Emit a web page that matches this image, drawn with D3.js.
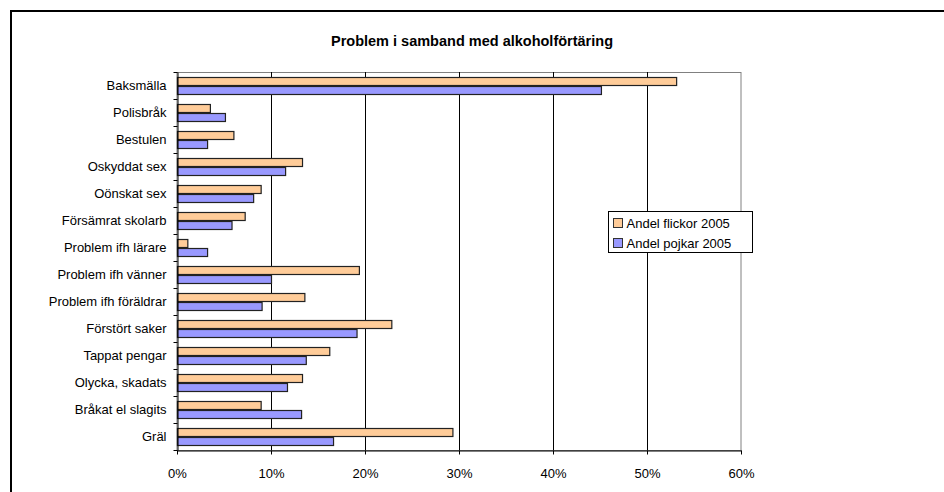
<!DOCTYPE html>
<html>
<head>
<meta charset="utf-8">
<script src="https://cdn.jsdelivr.net/npm/d3@7"></script>
<style>
  html, body { margin: 0; padding: 0; background: #fff; }
  svg { display: block; }
  text { font-family: "Liberation Sans", Arial, sans-serif; fill: #000; }
</style>
</head>
<body>
<svg id="chart" width="944" height="492"></svg>
<script>
const title = "Problem i samband med alkoholförtäring";
const categories = ["Baksmälla", "Polisbråk", "Bestulen", "Oskyddat sex", "Oönskat sex",
  "Försämrat skolarb", "Problem ifh lärare", "Problem ifh vänner", "Problem ifh föräldrar",
  "Förstört saker", "Tappat pengar", "Olycka, skadats", "Bråkat el slagits", "Gräl"];
const seriesNames = ["Andel flickor 2005", "Andel pojkar 2005"];
const flickor = [53.1, 3.5, 6.0, 13.3, 8.9, 7.2, 1.1, 19.35, 13.55, 22.8, 16.2, 13.3, 8.9, 29.3];
const pojkar  = [45.1, 5.1, 3.2, 11.5, 8.1, 5.8, 3.2, 10.0, 9.0, 19.1, 13.7, 11.7, 13.2, 16.6];
const xTicks = [0, 10, 20, 30, 40, 50, 60];
const colors = ["#FFCC99", "#9999FF"];

const svg = d3.select("#chart");
const plot = { left: 177, right: 741, top: 72, bottom: 450 };

// outer chart border (extends beyond the cropped view)
svg.append("rect").attr("x", 11).attr("y", 11).attr("width", 960).attr("height", 520)
  .attr("fill", "#fff").attr("stroke", "#000").attr("stroke-width", 2);

svg.append("text").attr("x", 472).attr("y", 46).attr("text-anchor", "middle")
  .attr("font-size", 14.5).attr("font-weight", "bold").text(title);

const x = d3.scaleLinear().domain([0, 60]).range([plot.left, plot.right]);
const y = d3.scaleBand().domain(categories).range([plot.top, plot.bottom]).paddingInner(0.4).paddingOuter(0.2);
const yb = d3.scaleBand().domain(categories).range([plot.top, plot.bottom]);
const sub = d3.scaleBand().domain([0, 1]).range([0, y.bandwidth()]);

// plot area border (gray top/right)
svg.append("rect").attr("x", plot.left).attr("y", plot.top + 0.5)
  .attr("width", plot.right - plot.left).attr("height", plot.bottom - plot.top)
  .attr("fill", "none").attr("stroke", "#808080").attr("stroke-width", 1);

// gridlines
svg.append("g").selectAll("line").data(xTicks.filter(t => t > 0 && t < 60)).join("line")
  .attr("x1", d => Math.round(x(d)) + 0.5).attr("x2", d => Math.round(x(d)) + 0.5)
  .attr("y1", plot.top).attr("y2", plot.bottom)
  .attr("stroke", "#000").attr("stroke-width", 1);

// bars
const data = [flickor, pojkar];
data.forEach((vals, si) => {
  svg.append("g").selectAll("rect").data(categories).join("rect")
    .attr("x", x(0) + 0.5)
    .attr("y", (d) => Math.round(y(d) + sub(si)) + 0.5)
    .attr("width", (d, i) => x(vals[i]) - x(0))
    .attr("height", Math.round(sub.bandwidth()))
    .attr("fill", colors[si]).attr("stroke", "#222").attr("stroke-width", 1.2);
});

// bottom axis
const xAxis = svg.append("g").attr("transform", `translate(0,${plot.bottom + 0.5})`)
  .call(d3.axisBottom(x).tickValues(xTicks).tickFormat(d => d + "%").tickSize(4).tickSizeOuter(0));
xAxis.select(".domain").attr("stroke", "#000");
xAxis.selectAll(".tick line").attr("stroke", "#000");
xAxis.selectAll("text").attr("font-size", 13).attr("font-family", "Liberation Sans, Arial, sans-serif")
  .attr("dy", "0").attr("y", 27);

// left axis
const yAxis = svg.append("g").attr("transform", `translate(${plot.left + 0.5},0)`)
  .call(d3.axisLeft(yb).tickSize(0).tickPadding(11));
yAxis.select(".domain").attr("stroke", "#000");
yAxis.selectAll("text").attr("font-size", 13).attr("font-family", "Liberation Sans, Arial, sans-serif");
// category boundary ticks
const bounds = categories.map(c => yb(c)).concat([plot.bottom]);
yAxis.append("g").selectAll("line").data(bounds).join("line")
  .attr("x1", -4).attr("x2", 0).attr("y1", d => Math.round(d) + 0.5).attr("y2", d => Math.round(d) + 0.5)
  .attr("stroke", "#000");

// legend
const lg = svg.append("g").attr("transform", "translate(608.5,211.5)");
lg.append("rect").attr("width", 144).attr("height", 41).attr("fill", "#fff").attr("stroke", "#000");
seriesNames.forEach((n, i) => {
  lg.append("rect").attr("x", 5).attr("y", 7 + i * 20).attr("width", 9).attr("height", 9)
    .attr("fill", colors[i]).attr("stroke", "#333");
  lg.append("text").attr("x", 18).attr("y", 12 + i * 20).attr("dy", "0.35em")
    .attr("font-size", 13).text(n);
});
</script>
</body>
</html>
